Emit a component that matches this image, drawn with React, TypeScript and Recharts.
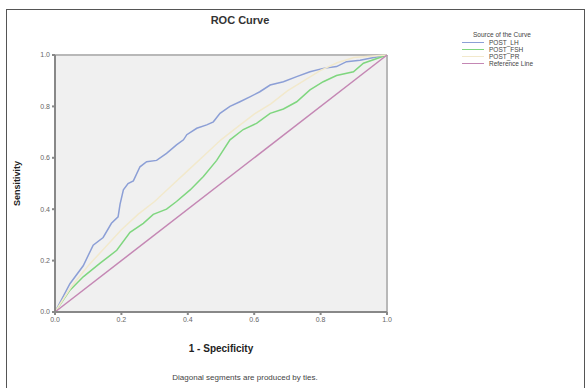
import {
  LineChart,
  Line,
  XAxis,
  YAxis,
  CartesianGrid,
  Label,
  ReferenceLine,
} from "recharts";

// 1 - specificity / sensitivity pairs
const lhX = [0, 0.045, 0.085, 0.115, 0.145, 0.17, 0.19, 0.196, 0.206, 0.22, 0.236, 0.256, 0.276, 0.306, 0.336, 0.366, 0.387, 0.397, 0.427, 0.457, 0.477, 0.497, 0.527, 0.557, 0.587, 0.617, 0.648, 0.688, 0.728, 0.768, 0.808, 0.848, 0.878, 0.919, 0.949, 1];
const lhY = [0, 0.11, 0.18, 0.26, 0.29, 0.345, 0.37, 0.42, 0.475, 0.5, 0.51, 0.565, 0.585, 0.59, 0.617, 0.65, 0.67, 0.69, 0.715, 0.728, 0.74, 0.773, 0.8, 0.818, 0.837, 0.857, 0.883, 0.896, 0.916, 0.935, 0.948, 0.955, 0.974, 0.98, 0.987, 1];

const fshX = [0, 0.045, 0.085, 0.136, 0.186, 0.226, 0.266, 0.296, 0.336, 0.366, 0.407, 0.447, 0.487, 0.527, 0.567, 0.607, 0.648, 0.688, 0.728, 0.768, 0.808, 0.848, 0.899, 0.929, 1];
const fshY = [0, 0.085, 0.137, 0.19, 0.24, 0.31, 0.345, 0.38, 0.4, 0.43, 0.475, 0.527, 0.59, 0.67, 0.71, 0.734, 0.773, 0.79, 0.818, 0.864, 0.896, 0.92, 0.935, 0.968, 1];

const prX = [0, 0.05, 0.1, 0.15, 0.2, 0.25, 0.3, 0.35, 0.4, 0.45, 0.5, 0.55, 0.6, 0.65, 0.7, 0.75, 0.8, 0.85, 0.9, 1];
const prY = [0, 0.1, 0.18, 0.25, 0.32, 0.38, 0.43, 0.49, 0.55, 0.61, 0.67, 0.72, 0.77, 0.81, 0.86, 0.9, 0.94, 0.97, 0.99, 1];

const refX = [0, 1];
const refY = [0, 1];

const ticks = [0, 0.2, 0.4, 0.6, 0.8, 1];

const toPoints = (xs: number[], ys: number[]) => xs.map((x, i) => ({ x, y: ys[i] }));

const series = [
  { name: "POST_LH", color: "#8c9fd6", data: toPoints(lhX, lhY) },
  { name: "POST_FSH", color: "#7fd67f", data: toPoints(fshX, fshY) },
  { name: "POST_PR", color: "#f2e9cc", data: toPoints(prX, prY) },
  { name: "Reference Line", color: "#c487b4", data: toPoints(refX, refY) },
];

const font = "'Liberation Sans', Arial, sans-serif";

export default function App() {
  return (
    <div
      style={{
        position: "absolute",
        left: 0,
        top: 0,
        width: 586,
        height: 388,
        background: "#fff",
        fontFamily: font,
        overflow: "hidden",
      }}
    >
      <div
        style={{
          position: "absolute",
          left: 6,
          top: 9,
          width: 579,
          height: 390,
          border: "1px solid #555",
          boxSizing: "border-box",
        }}
      />
      <LineChart
        width={586}
        height={388}
        margin={{ top: 55, right: 199, bottom: 56, left: 25 }}
      >
        <CartesianGrid fill="#f0f0f0" stroke="none" />
        <ReferenceLine y={1} stroke="#b8b8b8" strokeWidth={2} />
        <ReferenceLine x={1} stroke="#b8b8b8" strokeWidth={2} />
        <XAxis
          type="number"
          dataKey="x"
          domain={[0, 1]}
          ticks={ticks}
          tickFormatter={(v: number) => v.toFixed(1)}
          height={20}
          stroke="#888"
          strokeWidth={2}
          tickSize={3}
          tick={{ fontSize: 7, fill: "#666", fontFamily: font }}
        >
          <Label
            value="1 - Specificity"
            position="insideBottom"
            offset={-20}
            style={{ fontSize: 10, fontWeight: "bold", fill: "#222", fontFamily: font }}
          />
        </XAxis>
        <YAxis
          type="number"
          dataKey="y"
          domain={[0, 1]}
          ticks={ticks}
          tickFormatter={(v: number) => v.toFixed(1)}
          width={30}
          stroke="#888"
          strokeWidth={2}
          tickSize={3}
          tick={{ fontSize: 7, fill: "#666", fontFamily: font }}
        >
          <Label
            value="Sensitivity"
            angle={-90}
            position="insideLeft"
            offset={-8}
            style={{ textAnchor: "middle", fontSize: 9, fontWeight: "bold", fill: "#222", fontFamily: font }}
          />
        </YAxis>
        {series.map((s) => (
          <Line
            key={s.name}
            data={s.data}
            dataKey="y"
            type="linear"
            stroke={s.color}
            strokeWidth={1.5}
            dot={false}
            isAnimationActive={false}
          />
        ))}
        <text
          x={240}
          y={21}
          textAnchor="middle"
          dominantBaseline="middle"
          style={{ fontSize: 11, fontWeight: "bold", fill: "#333", fontFamily: font }}
        >
          ROC Curve
        </text>
        <text
          x={245}
          y={378}
          textAnchor="middle"
          dominantBaseline="middle"
          style={{ fontSize: 8, fill: "#444", fontFamily: font }}
        >
          Diagonal segments are produced by ties.
        </text>
      </LineChart>
      <div style={{ position: "absolute", left: 462, top: 31, fontSize: 6.5, color: "#444" }}>
        <div style={{ marginLeft: 11, marginBottom: 1 }}>Source of the Curve</div>
        {series.map((s) => (
          <div key={s.name} style={{ display: "flex", alignItems: "center", height: 7 }}>
            <span style={{ display: "block", width: 22, height: 1.5, background: s.color, marginRight: 5 }} />
            <span>{s.name}</span>
          </div>
        ))}
      </div>
    </div>
  );
}
